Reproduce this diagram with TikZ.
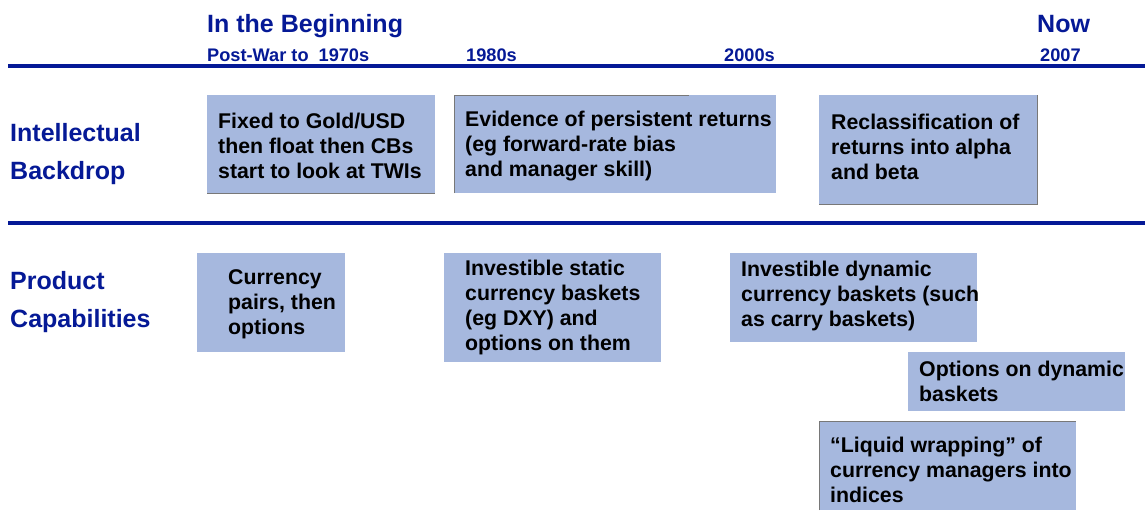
\documentclass[tikz,border=0pt]{standalone}
\usepackage{fontspec}
\setmainfont{Liberation Sans}
\definecolor{navy}{RGB}{5,25,150}
\definecolor{boxblue}{RGB}{166,184,222}
\definecolor{edgegray}{RGB}{120,120,120}
\tikzset{
  box/.style={fill=boxblue, draw=none, anchor=north west, inner sep=0pt, outer sep=0pt},
  btxt/.style={anchor=west, align=left, inner sep=0pt, font=\fontsize{21.3}{25}\selectfont\bfseries, text=black},
  head/.style={anchor=base west, inner sep=0pt, font=\fontsize{25}{30}\selectfont\bfseries, text=navy},
  sub/.style={anchor=base west, inner sep=0pt, font=\fontsize{18.2}{22}\selectfont\bfseries, text=navy},
  side/.style={anchor=base west, inner sep=0pt, font=\fontsize{25}{30}\selectfont\bfseries, text=navy},
  rulel/.style={draw=navy, line width=3.5pt},
  shadeline/.style={draw=edgegray, line width=0.8pt},
}
\begin{document}
\begin{tikzpicture}[x=1pt,y=-1pt]
\useasboundingbox[fill=white] (0,0) rectangle (1145,512);

% headers
\node[head] (hb) at (207,32) {In the Beginning};
\node[head] (hn) at (1037,32) {Now};
\node[sub] (s1) at (207,61) {Post-War to\hspace{0.55em}1970s};
\node[sub] (s2) at (466,61) {1980s};
\node[sub] (s3) at (724,61) {2000s};
\node[sub] (s4) at (1040,61) {2007};

% rules
\coordinate (r1a) at (8,66);
\coordinate (r1b) at (1145,66);
\coordinate (r2a) at (8,223);
\coordinate (r2b) at (1145,223);
\draw[rulel] (r1a) -- (r1b);
\draw[rulel] (r2a) -- (r2b);

% side labels
\node[side] (l1) at (10,141) {Intellectual};
\node[side] (l2) at (10,179) {Backdrop};
\node[side] (l3) at (10,289) {Product};
\node[side] (l4) at (10,327) {Capabilities};

% intellectual backdrop boxes
\node[box, minimum width=228pt, minimum height=98pt] (b1) at (207,95) {};
\node[box, minimum width=322pt, minimum height=98pt] (b2) at (454,95) {};
\node[box, minimum width=218pt, minimum height=109pt] (b3) at (819,95) {};
\draw[shadeline] (b1.south west) -- (b1.south east);
\draw[shadeline] (b2.south west) -- (b2.north west) -- ([xshift=235pt]b2.north west);
\draw[shadeline] (b3.south west) -- (b3.south east) -- (b3.north east);

\node[btxt] (t1) at ([xshift=11pt,yshift=-2pt]b1.west) {Fixed to Gold/USD\\then float then CBs\\start to look at TWIs};
\node[btxt] (t2) at ([xshift=11pt,yshift=-2pt]b2.west) {Evidence of persistent returns\\(eg forward-rate bias\\and manager skill)};
\node[btxt] (t3) at ([xshift=12pt,yshift=3pt]b3.west) {Reclassification of\\returns into alpha\\and beta};

% product capability boxes
\node[box, minimum width=148pt, minimum height=99pt] (p1) at (197,253) {};
\node[box, minimum width=217pt, minimum height=109pt] (p2) at (444,253) {};
\node[box, minimum width=247pt, minimum height=89pt] (p3) at (730,253) {};
\node[box, minimum width=217pt, minimum height=59pt] (p4) at (908,352) {};
\node[box, minimum width=257pt, minimum height=89pt] (p5) at (819,421) {};
\draw[shadeline] (p5.south west) -- (p5.north west) -- (p5.north east);

\node[btxt] (u1) at ([xshift=31pt,yshift=-2pt]p1.west) {Currency\\pairs, then\\options};
\node[btxt] (u2) at ([xshift=21pt]p2.west) {Investible static\\currency baskets\\(eg DXY) and\\options on them};
\node[btxt] (u3) at ([xshift=11pt,yshift=2pt]p3.west) {Investible dynamic\\currency baskets (such\\as carry baskets)};
\node[btxt] (u4) at ([xshift=11pt]p4.west) {Options on dynamic\\baskets};
\node[btxt] (u5) at ([xshift=11pt,yshift=-4pt]p5.west) {“Liquid wrapping” of\\currency managers into\\indices};
\end{tikzpicture}
\end{document}
